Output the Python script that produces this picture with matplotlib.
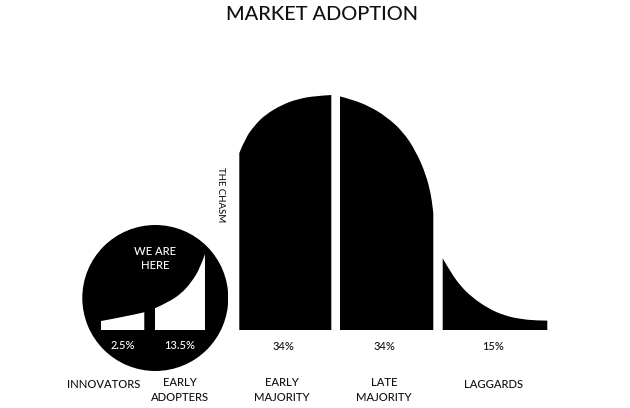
import matplotlib
matplotlib.use("Agg")
import matplotlib.pyplot as plt
from matplotlib.path import Path
from matplotlib.patches import PathPatch, Circle
from matplotlib.transforms import ScaledTranslation
from matplotlib.font_manager import FontProperties

# ------------------------------------------------------------------ data
title = "MARKET ADOPTION"
categories = ["INNOVATORS", "EARLY\nADOPTERS", "EARLY\nMAJORITY", "LATE\nMAJORITY", "LAGGARDS"]
shares = [2.5, 13.5, 34, 34, 15]
share_labels = [f"{v:g}%" for v in shares]
chasm_label = "THE CHASM"
here_label = "WE ARE\nHERE"

# top edge of each segment: position (standard deviations) and height (% of peak)
innovators_sd = [-2.936, -2.474, -2.103]
innovators_h = [7.2, 10.6, 14.2]
adopters_sd = [-1.897, -1.641, -1.384, -1.191, -1.032, -0.936]
adopters_h = [17.4, 22.2, 29.4, 38.6, 49.4, 60.6]
early_sd = [-0.972, -0.912, -0.812, -0.712, -0.545, -0.378, -0.212, -0.052]
early_h = [75.3, 81.7, 87.4, 91.6, 95.9, 98.4, 99.6, 100.0]
late_sd = [0.035, 0.162, 0.328, 0.495, 0.662, 0.795, 0.895, 0.945, 0.962, 0.968]
late_h = [99.4, 98.0, 95.2, 90.9, 84.6, 76.0, 66.1, 57.6, 51.9, 49.8]
laggard_sd = [1.062, 1.148, 1.248, 1.348, 1.515, 1.682, 1.848, 2.015, 2.108]
laggard_h = [30.5, 24.1, 18.4, 14.2, 9.2, 6.1, 4.6, 4.0, 4.0]

# ------------------------------------------------------------------ style / layout
W, H, DPI = 630, 408, 100
FAMILY = "Lato"
WEIGHT = "medium"
CAP = 0.717
INK = "#000000"
TXT = "#111111"

fig = plt.figure(figsize=(W / DPI, H / DPI), dpi=DPI)
fig.patch.set_facecolor("white")
renderer = fig.canvas.get_renderer()

ax = fig.add_axes([0, 0, 1, 1])
ax.set_xlim(-3.365, 2.935)
ax.set_ylim(-33.19, 140.43)
ax.axis("off")

ins = fig.add_axes([82.3 / W, 37 / H, 146 / W, 146 / H])
ins.set_xlim(-3.295, -0.4875)
ins.set_ylim(-32.8, 84)
ins.axis("off")
ins.patch.set_alpha(0)


def segment_path(xs, hs):
    pts = list(zip(xs, hs))
    n = len(pts)
    verts = [(xs[0], 0), pts[0]]
    codes = [Path.MOVETO, Path.LINETO]
    for i in range(1, n - 1):
        ctrl = pts[i]
        if i == n - 2:
            end = pts[n - 1]
        else:
            end = ((pts[i][0] + pts[i + 1][0]) / 2, (pts[i][1] + pts[i + 1][1]) / 2)
        verts += [ctrl, end]
        codes += [Path.CURVE3, Path.CURVE3]
    if n == 2:
        verts.append(pts[1])
        codes.append(Path.LINETO)
    verts += [(xs[-1], 0), (xs[0], 0)]
    codes += [Path.LINETO, Path.CLOSEPOLY]
    return Path(verts, codes)


# main curve
for xs, hs in [(early_sd, early_h), (late_sd, late_h), (laggard_sd, laggard_h)]:
    ax.add_patch(PathPatch(segment_path(xs, hs), fc=INK, ec="none"))

# zoomed circle with innovators / early adopters
ins.add_patch(Circle((0.5, 0.5), 0.5, transform=ins.transAxes, fc=INK, ec="none"))
for xs, hs in [(innovators_sd, innovators_h), (adopters_sd, adopters_h)]:
    ins.add_patch(PathPatch(segment_path(xs, hs), fc="white", ec="none"))


# ------------------------------------------------------------------ text
def line_step(size_px):
    prop = FontProperties(family=FAMILY, weight=WEIGHT, size=size_px * 72 / DPI)
    _, h, d = renderer.get_text_width_height_descent("lp", prop, ismath=False)
    return h - d


def label(x, y, s, size_px, color, transform, gap_px=12.0, dx_px=0, **kw):
    """Place text so that the cap-height middle of its first line sits at (x, y)."""
    n_extra = s.count("\n")
    dy = -(CAP * size_px / 2 + n_extra * gap_px)
    off = ScaledTranslation(dx_px / DPI, dy / DPI, fig.dpi_scale_trans)
    ls = gap_px / line_step(size_px)
    fig.text(x, y, s, transform=transform + off, fontsize=size_px * 72 / DPI,
             family=FAMILY, weight=WEIGHT, color=color, ha="center", va="baseline",
             multialignment="center", linespacing=ls, **kw)


fx = lambda px: px / W
fy = lambda py: 1 - py / H

# title
label(fx(321.7), fy(13), title, 20.0, TXT, fig.transFigure)

# the chasm (reads top to bottom)
fig.text(fx(220), fy(195), chasm_label, transform=fig.transFigure, fontsize=9.6 * 72 / DPI,
         family=FAMILY, weight=WEIGHT, color=TXT, rotation=270, ha="center", va="center")

# we are here
label(fx(155.3), fy(253), here_label, 11.2, "white", fig.transFigure, gap_px=12.0)

# share labels under each segment
for xs, lab in zip([innovators_sd, adopters_sd], share_labels[:2]):
    label((xs[0] + xs[-1]) / 2, -12, lab, 11.0, "white", ins.transData)
for xs, lab in zip([early_sd, late_sd, laggard_sd], share_labels[2:]):
    label((xs[0] + xs[-1]) / 2, -6.8, lab, 11.0, TXT, ax.transData, dx_px=-2)

# category labels
label_x = [103.3, 180, 282.3, 384.3, 493.3]
for cat, px in zip(categories, label_x):
    label(fx(px), fy(384), cat, 11.2, TXT, fig.transFigure, gap_px=12.7)

fig.savefig("out.png", dpi=DPI, facecolor="white")
